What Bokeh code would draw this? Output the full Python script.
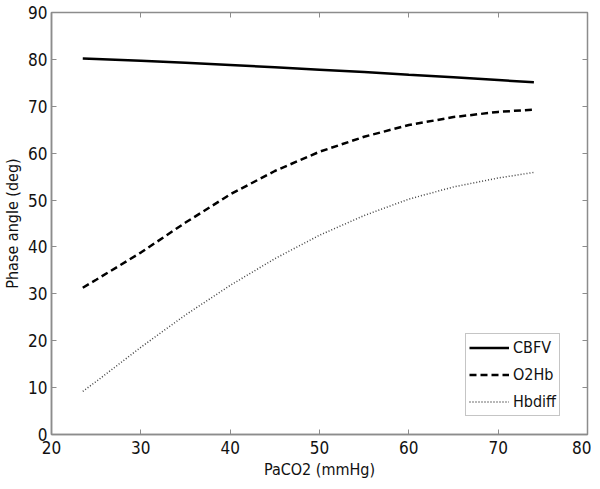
from bokeh.plotting import figure
from bokeh.models import LinearAxis, Range1d, FixedTicker, Legend, LegendItem, CustomJSTickFormatter
from bokeh.embed import file_html
from bokeh.resources import INLINE

# Data
paco2 = [23.5, 25, 30, 35, 40, 45, 50, 55, 60, 65, 70, 74]
cbfv = [80.2, 80.1, 79.7, 79.3, 78.8, 78.3, 77.8, 77.3, 76.7, 76.2, 75.6, 75.1]
o2hb = [31.3, 33.0, 38.8, 45.2, 51.2, 56.2, 60.3, 63.5, 66.0, 67.7, 68.8, 69.3]
hbdiff = [9.2, 11.3, 18.6, 25.5, 31.8, 37.5, 42.5, 46.7, 50.2, 52.8, 54.7, 55.9]
x_ticks = [20, 30, 40, 50, 60, 70, 80]
y_ticks = [0, 10, 20, 30, 40, 50, 60, 70, 80, 90]

FONT = "DejaVu Sans Condensed"
AX = "#8c8c8c"

p = figure(width=591, height=481, output_backend="svg", toolbar_location=None,
           x_range=Range1d(20, 80), y_range=Range1d(0, 90),
           min_border_left=44, min_border_right=4, min_border_top=12, min_border_bottom=40)
p.grid.visible = False
p.outline_line_color = AX
p.outline_line_width = 1.5

for ax, ticks in ((p.xaxis[0], x_ticks), (p.yaxis[0], y_ticks)):
    ax.ticker = FixedTicker(ticks=ticks)
    ax.major_tick_in = 5
    ax.major_tick_out = 0
    ax.minor_tick_line_color = None
    ax.axis_line_color = AX
    ax.axis_line_width = 1.5
    ax.major_tick_line_color = AX
    ax.major_label_text_font = FONT
    ax.major_label_text_font_size = "17px"
    ax.major_label_text_color = "#111111"
    ax.axis_label_text_font = FONT
    ax.axis_label_text_font_size = "16px"
    ax.axis_label_text_font_style = "normal"
    ax.axis_label_text_color = "#111111"

p.xaxis.axis_label = "PaCO2 (mmHg)"
p.yaxis.axis_label = "Phase angle (deg)"
p.xaxis.major_label_standoff = 6
p.xaxis.axis_label_standoff = 3
p.yaxis.major_label_standoff = 4
p.yaxis.axis_label_standoff = 3

blank = CustomJSTickFormatter(code="return ''")
for loc, ticks in (("above", x_ticks), ("right", y_ticks)):
    a = LinearAxis(ticker=FixedTicker(ticks=ticks), major_tick_in=5, major_tick_out=0,
                   minor_tick_line_color=None, axis_line_color=AX, major_tick_line_color=AX,
                   formatter=blank, major_label_text_font_size="1px", major_label_standoff=0)
    p.add_layout(a, loc)

r1 = p.line(paco2, cbfv, line_color="black", line_width=2.5)
r2 = p.line(paco2, o2hb, line_color="black", line_width=2.5, line_dash="7 4")
r3 = p.line(paco2, hbdiff, line_color="#444444", line_width=1.5, line_dash="1 2")

legend = Legend(items=[LegendItem(label="CBFV", renderers=[r1]),
                       LegendItem(label="O2Hb", renderers=[r2]),
                       LegendItem(label="Hbdiff", renderers=[r3])],
                location=(414, 18))
legend.label_text_font = FONT
legend.label_text_font_size = "16px"
legend.label_text_color = "#111111"
legend.glyph_width = 40
legend.glyph_height = 21
legend.label_height = 21
legend.label_standoff = 4
legend.spacing = 6
legend.padding = 3
legend.margin = 0
legend.border_line_color = AX
legend.border_line_width = 1.5
p.add_layout(legend, "center")

open("out.html", "w").write(file_html(p, INLINE))
